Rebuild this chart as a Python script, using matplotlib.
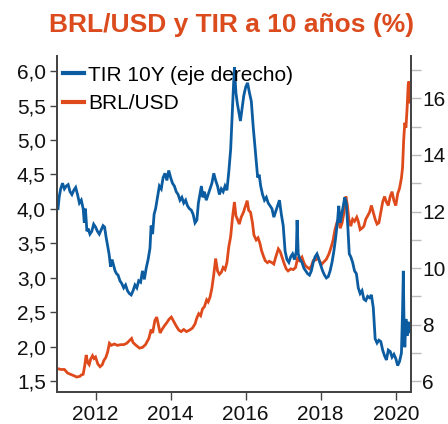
import matplotlib
matplotlib.use("Agg")
import matplotlib.pyplot as plt
from matplotlib.ticker import FuncFormatter, FixedLocator

plt.rcParams['font.family'] = ['Liberation Sans', 'DejaVu Sans']

# ---- data (decimal years) ----
brl_t = [2011.00, 2011.08, 2011.17, 2011.25, 2011.33, 2011.42, 2011.50, 2011.58, 2011.62, 2011.67,
         2011.71, 2011.75, 2011.79, 2011.83, 2011.87, 2011.92, 2011.96, 2012.00, 2012.06, 2012.12,
         2012.18, 2012.22, 2012.27, 2012.32, 2012.37, 2012.42, 2012.50, 2012.58, 2012.67, 2012.75,
         2012.83, 2012.92, 2012.96, 2013.00, 2013.08, 2013.17, 2013.25, 2013.33, 2013.42, 2013.48,
         2013.52, 2013.58, 2013.63, 2013.67, 2013.72, 2013.77, 2013.83, 2013.90, 2013.96, 2014.02,
         2014.08, 2014.15, 2014.22, 2014.28, 2014.35, 2014.42, 2014.50, 2014.58, 2014.65, 2014.70,
         2014.75, 2014.80, 2014.85, 2014.90, 2014.96, 2015.00, 2015.05, 2015.10, 2015.15, 2015.20,
         2015.25, 2015.30, 2015.35, 2015.40, 2015.45, 2015.50, 2015.55, 2015.60, 2015.65, 2015.70,
         2015.74, 2015.78, 2015.83, 2015.88, 2015.94, 2016.00, 2016.04, 2016.08, 2016.13, 2016.18,
         2016.22, 2016.28, 2016.33, 2016.38, 2016.42, 2016.47, 2016.52, 2016.58, 2016.63, 2016.70,
         2016.75, 2016.80, 2016.87, 2016.92, 2016.97, 2017.03, 2017.08, 2017.13, 2017.20, 2017.27,
         2017.33, 2017.38, 2017.43, 2017.50, 2017.55, 2017.60, 2017.65, 2017.70, 2017.75, 2017.80,
         2017.87, 2017.93, 2017.97, 2018.03, 2018.08, 2018.15, 2018.22, 2018.28, 2018.33, 2018.38,
         2018.43, 2018.47, 2018.52, 2018.57, 2018.62, 2018.67, 2018.71, 2018.75, 2018.80, 2018.85,
         2018.90, 2018.96, 2019.00, 2019.05, 2019.10, 2019.15, 2019.20, 2019.25, 2019.30, 2019.35,
         2019.40, 2019.45, 2019.50, 2019.55, 2019.60, 2019.65, 2019.70, 2019.75, 2019.80, 2019.85,
         2019.90, 2019.95, 2020.00, 2020.05, 2020.10, 2020.15, 2020.18, 2020.21, 2020.24, 2020.27,
         2020.30, 2020.33, 2020.35, 2020.38]
brl_v = [1.68, 1.67, 1.67, 1.62, 1.60, 1.58, 1.56, 1.57, 1.59, 1.60,
         1.72, 1.88, 1.77, 1.74, 1.82, 1.87, 1.83, 1.85, 1.75, 1.71,
         1.74, 1.80, 1.84, 1.92, 2.05, 2.02, 2.04, 2.02, 2.03, 2.03,
         2.05, 2.10, 2.12, 2.06, 2.02, 1.98, 1.99, 2.03, 2.12, 2.25,
         2.20, 2.38, 2.43, 2.33, 2.20, 2.25, 2.30, 2.35, 2.40, 2.43,
         2.37, 2.30, 2.24, 2.22, 2.25, 2.22, 2.24, 2.27, 2.33, 2.42,
         2.48, 2.45, 2.55, 2.58, 2.68, 2.65, 2.72, 2.85, 3.05, 3.28,
         3.10, 3.05, 3.08, 3.15, 3.12, 3.22, 3.45, 3.60, 3.88, 4.10,
         3.90, 3.85, 3.78, 3.88, 3.95, 4.05, 4.12, 3.98, 3.95, 3.80,
         3.62, 3.55, 3.58, 3.50, 3.40, 3.32, 3.25, 3.22, 3.24, 3.22,
         3.20, 3.30, 3.42, 3.38, 3.30, 3.20, 3.13, 3.10, 3.13, 3.12,
         3.15, 3.28, 3.25, 3.30, 3.22, 3.17, 3.15, 3.13, 3.17, 3.25,
         3.26, 3.30, 3.24, 3.20, 3.23, 3.27, 3.35, 3.45, 3.55, 3.70,
         3.80, 3.85, 3.72, 3.80, 3.95, 4.18, 4.05, 3.85, 3.75, 3.85,
         3.82, 3.88, 3.82, 3.70, 3.72, 3.75, 3.85, 3.90, 3.95, 4.05,
         3.95, 3.85, 3.78, 3.80, 3.95, 4.10, 4.18, 4.10, 4.05, 4.18,
         4.25, 4.12, 4.05, 4.22, 4.30, 4.45, 4.60, 5.00, 5.25, 5.18,
         5.45, 5.80, 5.85, 5.55]

tir_t = [2011.00, 2011.03, 2011.07, 2011.12, 2011.17, 2011.22, 2011.27, 2011.32, 2011.37, 2011.42,
         2011.47, 2011.52, 2011.57, 2011.62, 2011.67, 2011.70, 2011.73, 2011.77, 2011.80, 2011.85,
         2011.90, 2011.95, 2012.00, 2012.05, 2012.10, 2012.15, 2012.20, 2012.24, 2012.28, 2012.32,
         2012.36, 2012.40, 2012.44, 2012.48, 2012.52, 2012.56, 2012.60, 2012.65, 2012.70, 2012.75,
         2012.80, 2012.85, 2012.90, 2012.95, 2013.00, 2013.05, 2013.10, 2013.15, 2013.20, 2013.25,
         2013.30, 2013.35, 2013.40, 2013.45, 2013.48, 2013.52, 2013.56, 2013.60, 2013.65, 2013.70,
         2013.75, 2013.80, 2013.85, 2013.90, 2013.95, 2014.00, 2014.05, 2014.10, 2014.15, 2014.20,
         2014.25, 2014.30, 2014.35, 2014.40, 2014.45, 2014.50, 2014.55, 2014.60, 2014.65, 2014.70,
         2014.74, 2014.78, 2014.82, 2014.86, 2014.90, 2014.95, 2015.00, 2015.05, 2015.10, 2015.15,
         2015.20, 2015.25, 2015.30, 2015.35, 2015.40, 2015.45, 2015.50, 2015.55, 2015.60, 2015.64,
         2015.67, 2015.70, 2015.74, 2015.78, 2015.82, 2015.86, 2015.90, 2015.95, 2016.00, 2016.05,
         2016.10, 2016.15, 2016.20, 2016.24, 2016.28, 2016.32, 2016.36, 2016.40, 2016.45, 2016.50,
         2016.55, 2016.60, 2016.65, 2016.70, 2016.75, 2016.80, 2016.85, 2016.90, 2016.95, 2017.00,
         2017.05, 2017.10, 2017.15, 2017.20, 2017.25, 2017.30, 2017.35, 2017.37, 2017.40, 2017.45,
         2017.50, 2017.55, 2017.60, 2017.65, 2017.70, 2017.75, 2017.80, 2017.85, 2017.90, 2017.95,
         2018.00, 2018.05, 2018.10, 2018.15, 2018.20, 2018.25, 2018.30, 2018.35, 2018.40, 2018.45,
         2018.48, 2018.52, 2018.56, 2018.60, 2018.64, 2018.68, 2018.72, 2018.76, 2018.80, 2018.85,
         2018.90, 2018.95, 2019.00, 2019.05, 2019.10, 2019.15, 2019.20, 2019.25, 2019.30, 2019.35,
         2019.40, 2019.45, 2019.50, 2019.55, 2019.60, 2019.65, 2019.70, 2019.75, 2019.80, 2019.85,
         2019.90, 2019.95, 2020.00, 2020.05, 2020.10, 2020.15, 2020.18, 2020.20, 2020.22, 2020.24,
         2020.27, 2020.30, 2020.33, 2020.36, 2020.38]
tir_v = [12.1, 12.5, 12.8, 13.0, 12.8, 12.9, 12.95, 12.7, 12.6, 12.75,
         12.85, 12.6, 12.3, 12.4, 12.1, 11.6, 12.1, 11.3, 11.4, 11.2,
         11.3, 11.55, 11.45, 11.3, 11.2, 11.35, 11.5, 11.45, 11.1, 10.8,
         10.5, 10.05, 10.3, 10.1, 9.9, 9.8, 9.75, 9.55, 9.45, 9.3,
         9.4, 9.2, 9.1, 9.05, 9.2, 9.4, 9.3, 9.55, 9.5, 9.9,
         9.6, 10.0, 10.3, 10.7, 11.5, 11.2, 11.9, 12.1, 12.5, 12.9,
         12.8, 13.2, 13.35, 13.1, 13.45, 13.2, 13.0, 12.9, 12.7, 12.6,
         12.4, 12.5, 12.3, 12.4, 12.2, 12.1, 12.05, 11.9, 11.6, 11.7,
         12.3, 12.6, 12.9, 12.5, 12.7, 12.4, 12.6, 12.8, 13.0, 13.35,
         13.1, 12.9, 12.6, 12.8, 12.7, 12.9, 12.75, 13.4, 14.2, 15.4,
         16.3, 17.1, 16.2, 15.8, 15.5, 15.2, 15.6, 16.1, 16.4, 16.55,
         16.2, 15.9, 15.0, 14.4, 13.8, 13.2, 13.3, 12.9, 12.6, 12.4,
         12.5, 12.3, 12.2, 12.1, 11.8, 12.0, 12.2, 12.4, 11.9, 11.5,
         10.6, 10.3, 10.2, 10.4, 10.5, 10.3, 10.6, 11.7, 10.5, 10.3,
         10.2, 10.0, 9.9, 9.8, 9.75, 9.9, 10.2, 10.4, 10.5, 10.3,
         10.1, 9.9, 9.75, 9.65, 9.7, 9.9, 10.2, 10.6, 11.1, 11.7,
         12.2, 11.6, 11.9, 12.2, 12.5, 12.3, 11.5, 10.5, 10.4, 10.2,
         9.9, 9.8, 9.3, 9.1, 9.2, 8.9, 8.85, 9.0, 8.95, 9.05,
         8.6, 7.5, 7.35, 7.45, 7.4, 7.1, 6.9, 6.75, 7.1, 7.05,
         6.85, 6.95, 6.8, 6.55, 6.7, 7.0, 8.5, 9.9, 8.0, 7.2,
         8.2, 7.6, 8.1, 7.7, 7.9]

title = "BRL/USD y TIR a 10 años (%)"
lbl_tir = "TIR 10Y (eje derecho)"
lbl_brl = "BRL/USD"
xticks = [2012, 2014, 2016, 2018, 2020]
lticks = [1.5, 2.0, 2.5, 3.0, 3.5, 4.0, 4.5, 5.0, 5.5, 6.0]
rticks = [6, 8, 10, 12, 14, 16]
rminor = [7, 9, 11, 13, 15, 17]

BLUE = "#0B5CA0"
ORANGE = "#DE4A1C"
TCOL = "#DB4B1D"
SPINE = "#444444"

fig = plt.figure(figsize=(4.48, 4.24), dpi=100)
ax = fig.add_axes([0.127, 0.075, 0.79, 0.793])
ax2 = ax.twinx()

l_brl, = ax.plot(brl_t, brl_v, color=ORANGE, lw=2.0, solid_joinstyle='miter')
l_tir, = ax2.plot(tir_t, tir_v, color=BLUE, lw=2.0, solid_joinstyle='miter')

ax.set_xlim(2010.97, 2020.40)
ax.set_ylim(1.34, 6.22)
ax2.set_ylim(5.61, 17.5)

ax.xaxis.set_major_locator(FixedLocator(xticks))
ax.set_xticklabels([str(x) for x in xticks])
ax.yaxis.set_major_locator(FixedLocator(lticks))
ax.yaxis.set_major_formatter(FuncFormatter(lambda v, p: f"{v:.1f}".replace('.', ',')))
ax2.yaxis.set_major_locator(FixedLocator(rticks))
ax2.yaxis.set_minor_locator(FixedLocator(rminor))
ax2.yaxis.set_major_formatter(FuncFormatter(lambda v, p: f"{int(v)}"))

for a in (ax, ax2):
    a.spines['top'].set_visible(False)
    for s in ('left', 'right', 'bottom'):
        a.spines[s].set_color(SPINE)
        a.spines[s].set_linewidth(1.3)

ax.tick_params(axis='both', which='major', labelsize=15, direction='out',
               length=5, width=1.0)
ax.tick_params(axis='y', colors=SPINE, labelcolor='#111111', pad=3)
ax.tick_params(axis='x', colors=SPINE, labelcolor='#111111', length=6, pad=3)
ax2.tick_params(axis='y', which='both', direction='out', length=7, width=1.0,
                colors='#BBBBBB', labelcolor='#111111', labelsize=15, pad=1)

leg = ax2.legend([l_tir, l_brl], [lbl_tir, lbl_brl], loc='upper left',
                 frameon=False, fontsize=15, handlelength=1.0, handletextpad=0.2,
                 borderaxespad=0.0, labelspacing=0.45, borderpad=0.3,
                 bbox_to_anchor=(0.0, 0.99))
for h in leg.get_lines():
    h.set_linewidth(3)

fig.text(0.516, 0.941, title, ha='center', va='center', fontsize=19,
         fontweight='bold', color=TCOL)

fig.savefig("out.png", dpi=100)
